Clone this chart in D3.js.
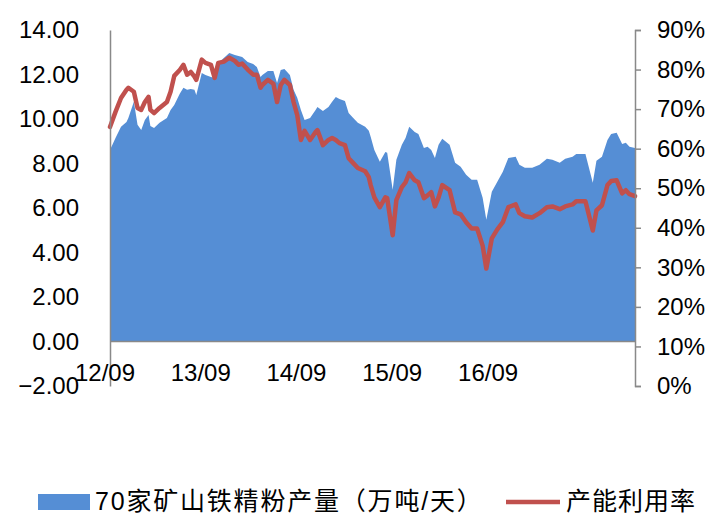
<!DOCTYPE html>
<html>
<head>
<meta charset="utf-8">
<script src="https://cdn.jsdelivr.net/npm/d3@7"></script>
<style>
  html, body { margin: 0; padding: 0; background: #ffffff; }
  svg { display: block; }
  text { font-family: "Liberation Sans", Arial, "Noto Sans CJK SC", sans-serif; fill: #000; }
</style>
</head>
<body>
<svg id="chart" width="712" height="515"></svg>
<script>
// ---- Data (weeks since first observation, 2012-09-20) ----
const startDate = new Date(2012, 8, 20);
const totalWeeks = 286;
const weeks = [0,3,6,9,10,13,15,17,19,21,22,24,27,31,33,35,38,40,42,44,46,47,50,52,55,57,59,62,65,68,70,72,75,78,80,82,83,86,89,91,93,95,98,100,102,104,106,109,112,113,116,119,121,123,125,128,130,132,135,139,141,142,144,147,150,151,154,156,159,161,163,166,168,171,173,175,177,179,181,185,188,191,194,197,200,203,205,208,211,214,217,221,223,226,230,234,238,241,245,248,252,254,259,263,265,268,271,273,276,279,281,283,286];
// 70家矿山铁精粉产量（万吨/天）
const output = [8.61,9.15,9.65,9.87,10.05,10.77,9.74,9.51,9.96,10.18,9.69,9.60,9.83,10.05,10.41,10.63,11.13,11.40,11.31,11.35,11.31,11.08,12.07,11.98,11.89,11.84,12.52,12.74,12.97,12.88,12.83,12.79,12.56,12.47,12.34,11.89,11.98,12.16,12.16,11.62,12.20,12.25,11.98,11.31,10.95,10.41,9.96,10.05,10.41,10.54,10.36,10.54,10.77,10.99,10.90,10.81,10.27,10.09,9.83,9.65,9.47,9.20,8.61,8.08,8.52,8.48,6.82,8.17,8.84,9.15,9.65,9.42,9.33,8.70,8.75,8.61,8.25,8.84,9.11,8.84,8.03,7.85,7.49,7.27,7.27,6.46,5.47,6.73,7.18,7.63,8.25,8.30,7.94,7.81,7.81,7.94,8.21,8.17,8.03,8.21,8.30,8.43,8.43,7.13,8.12,8.30,9.06,9.33,9.38,8.88,8.93,8.75,8.70];
// 产能利用率 (%)
const utilization = [65.5,69.3,72.8,74.9,75.4,74.4,70.3,69.8,71.8,73.1,69.8,69.0,70.3,71.8,74.4,78.4,79.9,81.2,78.7,79.4,78.2,77.4,82.5,81.7,81.2,77.9,81.7,82.0,83.0,82.2,81.2,81.5,80.0,78.7,78.7,75.4,76.1,77.4,76.4,71.8,76.1,77.4,76.1,71.8,68.5,62.2,64.5,62.2,64.2,64.7,60.9,62.2,62.7,62.2,61.4,60.9,57.6,56.6,55.1,54.3,52.8,50.8,47.7,45.2,47.7,47.5,38.1,47.0,50.3,51.5,53.8,52.0,51.5,47.5,48.2,49.0,45.4,47.7,50.8,49.5,43.9,43.4,41.4,39.8,39.8,35.5,29.7,37.3,39.6,41.4,45.2,45.9,43.7,42.9,42.6,43.7,45.2,45.4,44.7,45.4,45.9,46.7,46.7,39.3,44.4,45.7,50.8,51.8,52.0,48.7,49.5,48.5,48.0];

const leftTicks = [-2,0,2,4,6,8,10,12,14];
const rightTicks = [0,10,20,30,40,50,60,70,80,90];
const xTickDates = ["2012-09-01","2013-09-01","2014-09-01","2015-09-01","2016-09-01"];
const legendLabels = ["70家矿山铁精粉产量（万吨/天）", "产能利用率"];

// ---- Layout ----
const L = 110, R = 635, T = 30, B = 386;
const blue = "#558ED5", red = "#C0504D", axisGray = "#898989";

const svg = d3.select("#chart");
const dates = weeks.map(w => d3.timeDay.offset(startDate, w * 7));
const x = d3.scaleTime()
  .domain([startDate, d3.timeDay.offset(startDate, totalWeeks * 7)])
  .range([L, R]);
const yL = d3.scaleLinear().domain([-2, 14]).range([B, T]);
const yR = d3.scaleLinear().domain([0, 90]).range([B, T]);

const rows = weeks.map((w, i) => ({ d: dates[i], o: output[i], u: utilization[i] }));

// Area
svg.append("path")
  .datum(rows)
  .attr("fill", blue)
  .attr("d", d3.area().x(d => x(d.d)).y0(yL(0)).y1(d => yL(d.o)));

// Line
svg.append("path")
  .datum(rows)
  .attr("fill", "none")
  .attr("stroke", red)
  .attr("stroke-width", 4.5)
  .attr("stroke-linejoin", "round")
  .attr("stroke-linecap", "round")
  .attr("d", d3.line().x(d => x(d.d)).y(d => yR(d.u)));

// Zero axis line
svg.append("line")
  .attr("x1", L).attr("x2", R).attr("y1", yL(0)).attr("y2", yL(0))
  .attr("stroke", axisGray).attr("stroke-width", 1.5);

// Left axis
const gL = svg.append("g").attr("transform", `translate(${L},0)`)
  .call(d3.axisLeft(yL).tickValues(leftTicks).tickSize(0).tickPadding(31).tickFormat(d3.format(".2f")));
gL.select(".domain").attr("stroke", axisGray).attr("stroke-width", 1.5);
gL.selectAll("text").attr("font-size", 24).attr("fill", "#000")
  .attr("font-family", "Liberation Sans, Arial, sans-serif");

// Right axis
const gR = svg.append("g").attr("transform", `translate(${R},0)`)
  .call(d3.axisRight(yR).tickValues(rightTicks).tickSize(6).tickPadding(16).tickFormat(d => d + "%"));
gR.select(".domain").attr("stroke", axisGray).attr("stroke-width", 1.5);
gR.selectAll(".tick line").attr("stroke", axisGray).attr("stroke-width", 1.5);
gR.selectAll("text").attr("font-size", 24).attr("fill", "#000")
  .attr("font-family", "Liberation Sans, Arial, sans-serif");

// X labels
const parse = d3.timeParse("%Y-%m-%d");
const fmt = d3.timeFormat("%y/%m");
svg.append("g").selectAll("text")
  .data(xTickDates.map(parse))
  .join("text")
  .attr("x", d => x(d))
  .attr("y", 373)
  .attr("dy", "0.35em")
  .attr("text-anchor", "middle")
  .attr("font-size", 24)
  .text(d => fmt(d));

// Legend
const lg = svg.append("g");
lg.append("rect").attr("x", 38).attr("y", 494).attr("width", 52).attr("height", 16).attr("fill", blue);
lg.append("text").attr("x", 95).attr("y", 501).attr("dy", "0.35em")
  .attr("font-size", 25)
  .attr("letter-spacing", 1.8)
  .attr("font-family", "Liberation Sans, Noto Sans CJK SC, sans-serif")
  .text(legendLabels[0]);
lg.append("line").attr("x1", 506).attr("x2", 560).attr("y1", 502).attr("y2", 502)
  .attr("stroke", red).attr("stroke-width", 4.5);
lg.append("text").attr("x", 566).attr("y", 501).attr("dy", "0.35em")
  .attr("font-size", 25)
  .attr("letter-spacing", 1)
  .attr("font-family", "Noto Sans CJK SC, sans-serif")
  .text(legendLabels[1]);
</script>
</body>
</html>
